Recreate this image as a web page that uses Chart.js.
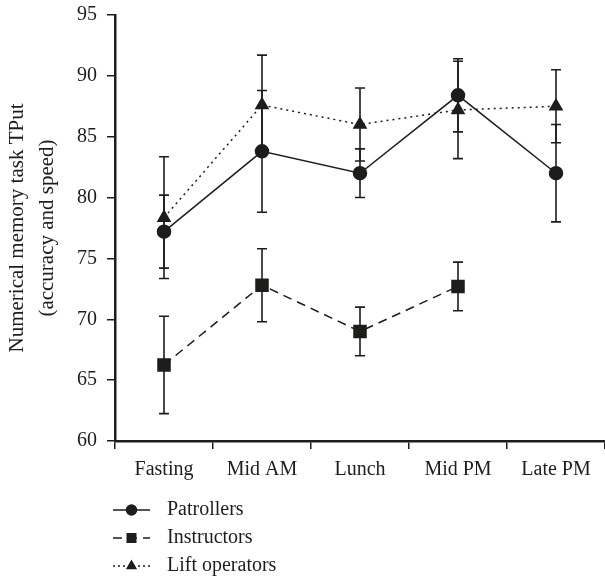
<!DOCTYPE html>
<html>
<head>
<meta charset="utf-8">
<script src="https://cdn.jsdelivr.net/npm/chart.js@4/dist/chart.umd.min.js"></script>
<style>
html,body{margin:0;padding:0;background:#fff;}
#wrap{position:relative;width:605px;height:578px;}
</style>
</head>
<body>
<div id="wrap"><canvas id="c" width="605" height="578"></canvas></div>
<script>
const categories = ['Fasting', 'Mid AM', 'Lunch', 'Mid PM', 'Late PM'];
const seriesNames = ['Patrollers', 'Instructors', 'Lift operators'];
const patrollers = [77.2, 83.8, 82.0, 88.4, 82.0];
const patrollersErr = [3.0, 5.0, 2.0, 3.0, 4.0];
const instructors = [66.25, 72.8, 69.0, 72.7, null];
const instructorsErr = [4.0, 3.0, 2.0, 2.0, null];
const liftOperators = [78.35, 87.6, 86.0, 87.2, 87.5];
const liftOperatorsErr = [5.0, 4.1, 3.0, 4.0, 3.0];
const yTicks = [60, 65, 70, 75, 80, 85, 90, 95];
const yTitle = ['Numerical memory task TPut', '(accuracy and speed)'];

const INK = '#1d1d1b';
const FONT = 'Liberation Serif';

const errors = [patrollersErr, instructorsErr, liftOperatorsErr];

const errorBarPlugin = {
  id: 'errorBars',
  beforeDatasetsDraw(chart) {
    const ctx = chart.ctx;
    const y = chart.scales.y;
    ctx.save();
    ctx.strokeStyle = INK;
    ctx.lineWidth = 1.6;
    chart.data.datasets.forEach((ds, i) => {
      const meta = chart.getDatasetMeta(i);
      const err = errors[i];
      meta.data.forEach((pt, j) => {
        const v = ds.data[j];
        if (v == null || err[j] == null) return;
        const x = pt.x;
        const yTop = y.getPixelForValue(v + err[j]);
        const yBot = y.getPixelForValue(v - err[j]);
        ctx.beginPath();
        ctx.moveTo(x, yTop); ctx.lineTo(x, yBot);
        ctx.moveTo(x - 5, yTop); ctx.lineTo(x + 5, yTop);
        ctx.moveTo(x - 5, yBot); ctx.lineTo(x + 5, yBot);
        ctx.stroke();
      });
    });
    ctx.restore();
  }
};

const legendPlugin = {
  id: 'customLegend',
  afterDraw(chart) {
    const ctx = chart.ctx;
    const rows = [510, 538, 566];
    const dashes = [[], [9, 6], [2, 3]];
    const styles = ['circle', 'rect', 'triangle'];
    const radii = [5, 6, 5];
    ctx.save();
    seriesNames.forEach((name, i) => {
      const yy = rows[i];
      ctx.strokeStyle = INK;
      ctx.lineWidth = 1.5;
      ctx.setLineDash(dashes[i]);
      ctx.beginPath();
      ctx.moveTo(113, yy); ctx.lineTo(150, yy);
      ctx.stroke();
      ctx.setLineDash([]);
      Chart.helpers.drawPoint(ctx, {pointStyle: styles[i], radius: radii[i], borderWidth: 1}, 131.5, yy);
      ctx.fillStyle = INK;
      ctx.fill();
      ctx.font = '20px "' + FONT + '"';
      ctx.textAlign = 'left';
      ctx.textBaseline = 'middle';
      ctx.fillStyle = INK;
      ctx.fillText(name, 167, yy);
    });
    ctx.restore();
  }
};

const common = {
  borderColor: INK,
  backgroundColor: INK,
  pointBorderColor: INK,
  pointBackgroundColor: INK,
  borderWidth: 1.5,
  tension: 0,
  fill: false,
  spanGaps: false
};

new Chart(document.getElementById('c'), {
  type: 'line',
  data: {
    labels: categories,
    datasets: [
      Object.assign({}, common, {label: seriesNames[0], data: patrollers, pointStyle: 'circle', pointRadius: 6.5}),
      Object.assign({}, common, {label: seriesNames[1], data: instructors, pointStyle: 'rect', pointRadius: 8.5, borderDash: [9, 6]}),
      Object.assign({}, common, {label: seriesNames[2], data: liftOperators, pointStyle: 'triangle', pointRadius: 7, borderDash: [2, 4]})
    ]
  },
  options: {
    responsive: false,
    animation: false,
    devicePixelRatio: 1,
    layout: {autoPadding: false, padding: {left: 0, right: 0, top: 15, bottom: 0}},
    plugins: {legend: {display: false}, tooltip: {enabled: false}},
    scales: {
      x: {
        type: 'category',
        offset: true,
        afterFit(s) { s.height = 137; s.paddingLeft = 0; s.paddingRight = 0; },
        grid: {display: true, drawOnChartArea: false, drawTicks: true, tickLength: 8, color: INK, lineWidth: 1.5, offset: true},
        border: {display: true, color: INK, width: 2.5},
        ticks: {color: INK, font: {family: FONT, size: 20}, padding: 9, maxRotation: 0, autoSkip: false}
      },
      y: {
        min: yTicks[0],
        max: yTicks[yTicks.length - 1],
        afterFit(s) { s.width = 115; s.paddingTop = 0; s.paddingBottom = 0; },
        afterBuildTicks(s) { s.ticks = yTicks.map(v => ({value: v})); },
        grid: {display: true, drawOnChartArea: false, drawTicks: true, tickLength: 8, color: INK, lineWidth: 1.5},
        border: {display: true, color: INK, width: 2.5},
        ticks: {color: INK, font: {family: FONT, size: 20}, padding: 10},
        title: {display: true, text: yTitle, color: INK, font: {family: FONT, size: 21, lineHeight: 1.45}, padding: {top: 2, bottom: 0}}
      }
    }
  },
  plugins: [errorBarPlugin, legendPlugin]
});
</script>
</body>
</html>
